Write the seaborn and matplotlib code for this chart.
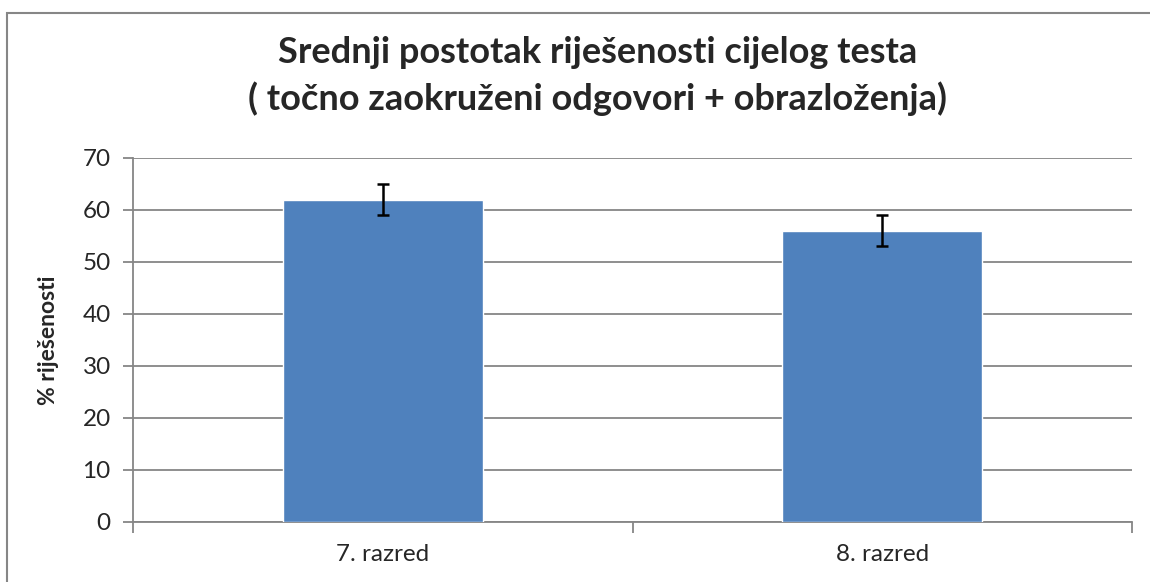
import matplotlib
matplotlib.use("Agg")
import matplotlib.pyplot as plt
import seaborn as sns
import pandas as pd
from matplotlib.patches import Rectangle

categories = ["7. razred", "8. razred"]
values = [62, 56]
errors = [3, 3]
yticks = [0, 10, 20, 30, 40, 50, 60, 70]
title = "Srednji postotak riješenosti cijelog testa\n( točno zaokruženi odgovori + obrazloženja)"
ylabel = "% riješenosti"

sns.set_theme(style="white")
plt.rcParams['font.family'] = ['Lato', 'DejaVu Sans']

df = pd.DataFrame({"razred": categories, "val": values})

W, H = 1150, 582
fig = plt.figure(figsize=(W / 100, H / 100), dpi=100)
ax = fig.add_axes([133 / W, (H - 522) / H, (1132 - 133) / W, (522 - 158) / H])

grid_c = "#868686"
sns.barplot(data=df, x="razred", y="val", color="#4F81BD", saturation=1,
            width=0.4, ax=ax, errorbar=None, zorder=3)
ax.errorbar(range(len(categories)), values, yerr=errors, fmt="none",
            ecolor="black", elinewidth=1.8, capsize=4.5, capthick=1.8, zorder=4)

ax.set_xlim(-0.5, len(categories) - 0.5)
ax.set_ylim(0, 70)
ax.set_yticks(yticks)
ax.set_yticklabels([str(t) for t in yticks], fontsize=17.5)
ax.yaxis.grid(True, color=grid_c, linewidth=1.3, zorder=0)
ax.set_axisbelow(True)
ax.tick_params(axis="y", length=7, width=1.3, color=grid_c, direction="out", left=True, pad=9)
ax.tick_params(axis="x", length=0, labelsize=17.5, pad=16)
# category boundary ticks
ax.set_xticks([-0.5, 0.5, 1.5], minor=True)
ax.tick_params(axis="x", which="minor", length=8, width=1.3, color=grid_c, direction="out", bottom=True)
for s in ["top", "right"]:
    ax.spines[s].set_visible(False)
for s in ["left", "bottom"]:
    ax.spines[s].set_color(grid_c)
    ax.spines[s].set_linewidth(1.3)

ax.set_xlabel("")
ax.set_ylabel(ylabel, fontsize=16.5, fontweight="bold", labelpad=17)

fig.text(598 / W, (H - 76) / H, title, ha="center", va="center",
         fontsize=26, fontweight="bold", linespacing=1.45)

fig.patches.append(Rectangle((7 / W, -0.1), 1.2, (H - 13) / H + 0.1,
                             transform=fig.transFigure, fill=False,
                             edgecolor=grid_c, linewidth=1.5))

fig.savefig("out.png", dpi=100)
